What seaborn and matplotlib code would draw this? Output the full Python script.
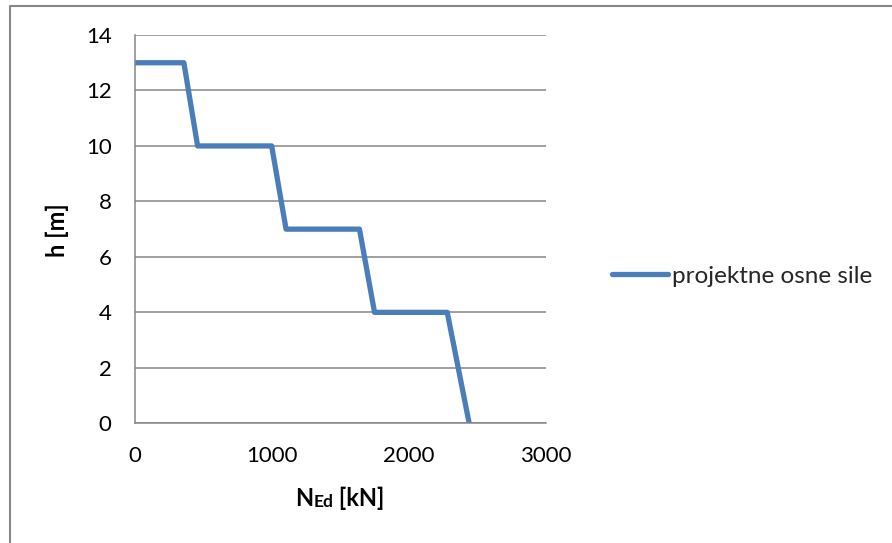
import matplotlib
matplotlib.use("Agg")
import matplotlib.pyplot as plt
import seaborn as sns
from matplotlib.lines import Line2D

# Design axial force along the height
axial_force_kN = [0, 360, 460, 1000, 1105, 1640, 1750, 2280, 2440]
height_m = [13, 13, 10, 10, 7, 7, 4, 4, 0]
series_name = "projektne osne sile"
x_ticks = [0, 1000, 2000, 3000]
y_ticks = [0, 2, 4, 6, 8, 10, 12, 14]

sns.set_theme(style="white")
plt.rcParams["font.family"] = ["Lato", "DejaVu Sans"]

W, H = 892, 543
fig = plt.figure(figsize=(W / 100, H / 100), dpi=100)
ax = fig.add_axes([134.5 / W, 1 - 423.3 / H, (546 - 134.5) / W, (423.3 - 35) / H])

grey = "#868686"
line_color = "#4A7EBB"

sns.lineplot(x=axial_force_kN, y=height_m, ax=ax, color=line_color,
             linewidth=3.8, sort=False, estimator=None, legend=False)

ax.set_xlim(0, 3000)
ax.set_ylim(0, 14)
ax.set_xticks(x_ticks)
ax.set_yticks(y_ticks)
ax.yaxis.grid(True, color=grey, linewidth=1.1)
ax.xaxis.grid(False)
ax.set_axisbelow(True)

for side in ("top", "right"):
    ax.spines[side].set_visible(False)
for side in ("left", "bottom"):
    ax.spines[side].set_color(grey)
    ax.spines[side].set_linewidth(1.1)

ax.tick_params(axis="both", which="major", direction="out", length=5.5,
               width=1.1, color=grey, labelsize=16, labelcolor="black")
ax.tick_params(axis="x", pad=11)
ax.tick_params(axis="y", pad=11)

# Axis titles
ax.set_ylabel("")
fig.text(57 / W, 1 - 230 / H, "h [m]", fontsize=17, fontweight="bold",
         color="black", rotation=90, ha="center", va="center")
t1 = fig.text(0.0, 0.0, "N", fontsize=17, fontweight="bold", color="black",
              ha="left", va="baseline")
t2 = ax.annotate("Ed", xy=(1, 0), xycoords=t1, fontsize=12.5, fontweight="bold",
                 color="black", ha="left", va="bottom")
t3 = ax.annotate(" [kN]", xy=(1, 0), xycoords=t2, fontsize=17, fontweight="bold",
                 color="black", ha="left", va="bottom")
fig.canvas.draw()
r = fig.canvas.get_renderer()
total = (t1.get_window_extent(r).width + t2.get_window_extent(r).width
         + t3.get_window_extent(r).width)
t1.set_position(((340 - total / 2) / W, 1 - 506 / H))

# Legend on the right
handle = Line2D([], [], color=line_color, linewidth=3.8, solid_capstyle="round")
fig.legend([handle], [series_name], loc="center left",
           bbox_to_anchor=(612 / W, 1 - 276 / H), frameon=False,
           fontsize=17.5, handlelength=2.3, handletextpad=0.16, borderpad=0,
           borderaxespad=0)

# Chart outline
fig.add_artist(Line2D([9.5 / W, 9.5 / W, 1], [0, 1 - 5.5 / H, 1 - 5.5 / H],
                      transform=fig.transFigure, color=grey, linewidth=1.5))

fig.savefig("out.png", dpi=100, facecolor="white")
